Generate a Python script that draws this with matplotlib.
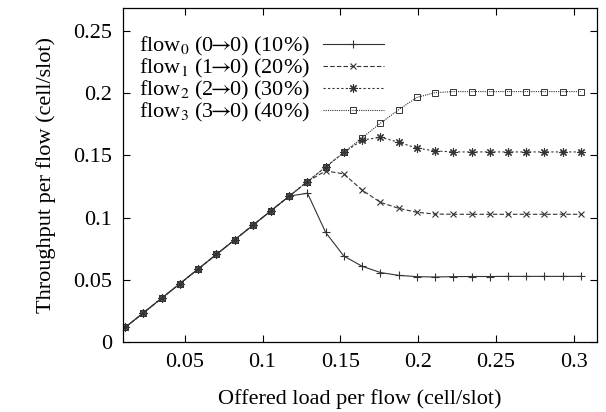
import matplotlib
matplotlib.use("Agg")
import matplotlib.pyplot as plt

plt.rcParams["font.family"] = ["Liberation Serif", "DejaVu Serif"]
plt.rcParams["mathtext.fontset"] = "stix"

# offered load per flow (cell/slot)
load = [0.0117, 0.0234, 0.0352, 0.0469, 0.0586, 0.0703, 0.0820, 0.0938, 0.1055,
        0.1172, 0.1289, 0.1406, 0.1523, 0.1641, 0.1758, 0.1875, 0.1992, 0.2109,
        0.2227, 0.2344, 0.2461, 0.2578, 0.2695, 0.2813, 0.2930, 0.3047]

linear = [0.0117, 0.0234, 0.0352, 0.0469, 0.0586, 0.0703, 0.0820, 0.0938, 0.1055,
          0.1172]

flow0 = linear + [0.1195, 0.0880, 0.0690, 0.0608, 0.0558, 0.0535, 0.0525, 0.0522,
                  0.0525, 0.0526, 0.0526, 0.0527, 0.0527, 0.0527, 0.0527, 0.0527]
flow1 = linear + [0.1289, 0.1375, 0.1350, 0.1220, 0.1122, 0.1074, 0.1042, 0.1028,
                  0.1026, 0.1026, 0.1026, 0.1026, 0.1026, 0.1026, 0.1026, 0.1026]
flow2 = linear + [0.1289, 0.1406, 0.1523, 0.1622, 0.1645, 0.1605, 0.1558, 0.1535,
                  0.1527, 0.1527, 0.1527, 0.1527, 0.1527, 0.1527, 0.1527, 0.1527]
flow3 = linear + [0.1289, 0.1406, 0.1523, 0.1641, 0.1758, 0.1866, 0.1965, 0.2003,
                  0.2012, 0.2012, 0.2012, 0.2012, 0.2012, 0.2012, 0.2012, 0.2012]

arr = r"$\!\!\rightarrow\!\!$"
labels = ["flow$_0$ (0" + arr + "0) (10%)", "flow$_1$ (1" + arr + "0) (20%)",
          "flow$_2$ (2" + arr + "0) (30%)", "flow$_3$ (3" + arr + "0) (40%)"]

fig = plt.figure(figsize=(6.06, 4.12), dpi=100)
ax = fig.add_axes([0.203, 0.170, 0.782, 0.811])

c = "#333333"
ax.plot(load, flow0, color=c, lw=0.8, ls="-", marker="+", ms=6, mew=0.8, label=labels[0])
ax.plot(load, flow1, color=c, lw=0.8, ls=(0, (4, 2)), marker="x", ms=5, mew=0.8, label=labels[1])
ax.plot(load, flow2, color=c, lw=0.8, ls=(0, (2, 2)), marker=(8, 2, 0), ms=6, mew=0.8, label=labels[2])
ax.plot(load, flow3, color=c, lw=0.8, ls=(0, (1, 1)), marker="s", ms=5, mew=0.7,
        mfc="none", label=labels[3])

ax.set_xlim(0.0103, 0.315)
ax.set_ylim(0, 0.2685)
ax.set_xticks([0.05, 0.1, 0.15, 0.2, 0.25, 0.3])
ax.set_xticklabels(["0.05", "0.1", "0.15", "0.2", "0.25", "0.3"])
ax.set_yticks([0, 0.05, 0.1, 0.15, 0.2, 0.25])
ax.set_yticklabels(["0", "0.05", "0.1", "0.15", "0.2", "0.25"])
ax.tick_params(direction="in", top=True, right=True, length=5, width=0.8,
               labelsize=16, pad=8)
for s in ax.spines.values():
    s.set_linewidth(0.9)

ax.set_xlabel("Offered load per flow (cell/slot)", fontsize=16, labelpad=12)
ax.set_ylabel("Throughput per flow (cell/slot)", fontsize=16, labelpad=12)

ax.legend(loc="upper left", bbox_to_anchor=(0.016, 0.945), frameon=False,
          markerfirst=False, fontsize=16, handlelength=2.75, labelspacing=-0.05,
          handletextpad=0.55, borderaxespad=0)

fig.savefig("out.png", dpi=100)
